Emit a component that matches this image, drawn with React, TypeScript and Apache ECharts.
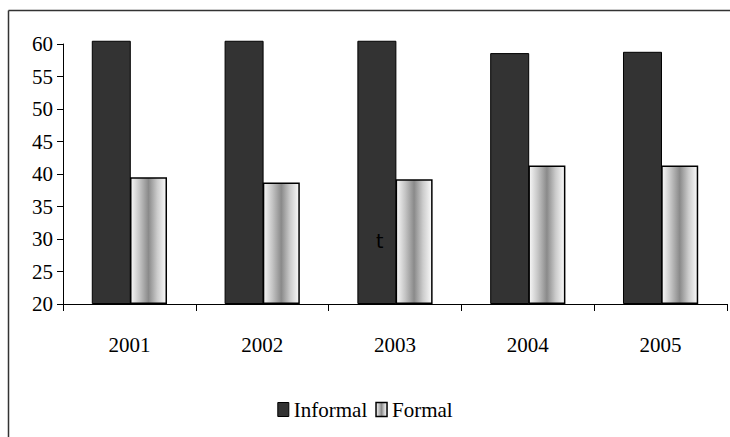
import React, { useEffect, useRef } from "react";
import * as echarts from "echarts";

const years = ["2001", "2002", "2003", "2004", "2005"];
const informal = [60.5, 60.5, 60.5, 58.6, 58.8];
const formal = [39.5, 38.7, 39.2, 41.3, 41.3];
const yTicks = { min: 20, max: 60, interval: 5 };

export default function App() {
  const ref = useRef<HTMLDivElement>(null);
  useEffect(() => {
    const chart = echarts.init(ref.current!, null, { renderer: "svg" });
    const font = "Liberation Serif, Times New Roman, serif";
    const grad = new echarts.graphic.LinearGradient(0, 0, 1, 0, [
      { offset: 0, color: "#f8f8f8" },
      { offset: 0.25, color: "#c4c4c4" },
      { offset: 0.5, color: "#8a8a8a" },
      { offset: 0.75, color: "#cccccc" },
      { offset: 1, color: "#fafafa" },
    ]);
    const base = years.map(() => yTicks.min);
    const above = (arr: number[]) => arr.map((v) => v - yTicks.min);
    const hidden = {
      type: "bar",
      data: base,
      silent: true,
      clip: false,
      itemStyle: { color: "transparent", borderWidth: 0 },
      legendHoverLink: false,
    };
    chart.setOption({
      animation: false,
      backgroundColor: "#fff",
      textStyle: { fontFamily: font },
      grid: { left: 63, right: 3, top: 44, bottom: 133 },
      legend: {
        bottom: 12,
        left: "center",
        icon: "rect",
        itemWidth: 11,
        itemHeight: 14,
        itemGap: 8,
        textStyle: { fontFamily: font, fontSize: 21, color: "#000" },
        data: [
          { name: "Informal", itemStyle: { color: "#333", borderColor: "#000", borderWidth: 1 } },
          { name: "Formal", itemStyle: { color: grad, borderColor: "#000", borderWidth: 1.5 } },
        ],
      },
      xAxis: {
        type: "category",
        data: years,
        axisLine: { lineStyle: { color: "#000", width: 1 } },
        axisTick: { show: true, length: 7, lineStyle: { color: "#000" } },
        axisLabel: { fontFamily: font, fontSize: 21, color: "#000", margin: 30 },
      },
      yAxis: {
        type: "value",
        min: yTicks.min,
        max: yTicks.max,
        interval: yTicks.interval,
        splitLine: { show: false },
        axisLine: { show: true, lineStyle: { color: "#000", width: 1 } },
        axisTick: { show: true, length: 6, lineStyle: { color: "#000" } },
        axisLabel: { fontFamily: font, fontSize: 21, color: "#000", margin: 10 },
      },
      series: [
        { ...hidden, name: "baseI", stack: "i", barWidth: 39, barGap: "-2%" },
        {
          name: "Informal",
          type: "bar",
          stack: "i",
          data: above(informal),
          barWidth: 39,
          barGap: "-2%",
          clip: false,
          itemStyle: { color: "#333", borderColor: "#000", borderWidth: 1 },
        },
        { ...hidden, name: "baseF", stack: "f", barWidth: 37 },
        {
          name: "Formal",
          type: "bar",
          stack: "f",
          data: above(formal),
          barWidth: 37,
          clip: false,
          itemStyle: { color: grad, borderColor: "#000", borderWidth: 1.5 },
        },
      ],
      graphic: [
        {
          type: "line",
          z: 100,
          shape: { x1: 8.5, y1: 10.5, x2: 730, y2: 10.5 },
          style: { stroke: "#333", lineWidth: 1.5 },
          silent: true,
        },
        {
          type: "line",
          z: 100,
          shape: { x1: 8.5, y1: 10.5, x2: 8.5, y2: 437 },
          style: { stroke: "#333", lineWidth: 1.5 },
          silent: true,
        },
        {
          type: "text",
          z: 100,
          x: 376,
          y: 231,
          style: {
            text: "t",
            fontFamily: "DejaVu Sans",
            fontSize: 19,
            fill: "#000",
            verticalAlign: "top",
          },
        },
      ],
    });
    return () => chart.dispose();
  }, []);
  return (
    <div
      ref={ref}
      style={{ position: "absolute", left: 0, top: 0, width: 730, height: 437 }}
    />
  );
}
